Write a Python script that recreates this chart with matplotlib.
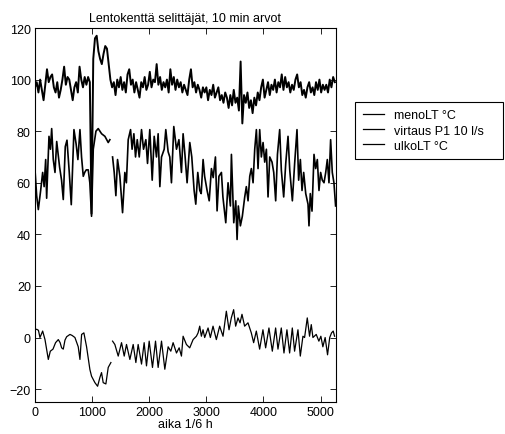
import numpy as np
import matplotlib
matplotlib.use("Agg")
import matplotlib.pyplot as plt

plt.rcParams['font.family'] = ['Liberation Sans', 'DejaVu Sans']
plt.rcParams['font.size'] = 9

title = "Lentokenttä selittäjät, 10 min arvot"
xlabel = "aika 1/6 h"
labels = ["menoLT °C", "virtaus P1 10 l/s", "ulkoLT °C"]
xticks = [0, 1000, 2000, 3000, 4000, 5000]
yticks = [-20, 0, 20, 40, 60, 80, 100, 120]

# menoLT, sampled every 30 time steps
meno_step = 30
meno_y = [
    97, 99, 95, 100, 96, 92, 98, 104, 99, 101,
    102, 97, 95, 99, 93, 96, 100, 105, 98, 101,
    100, 96, 92, 97, 99, 95, 105, 100, 97, 101,
    98, 101, 99, 48, 108, 116, 117, 111, 108, 106,
    110, 113, 112, 106, 100, 97, 99, 94, 100, 97,
    101, 96, 99, 95, 102, 104, 98, 100, 95, 99,
    96, 93, 99, 97, 101, 96, 98, 103, 97, 100,
    99, 106, 98, 101, 96, 99, 97, 100, 95, 104,
    98, 101, 96, 100, 97, 99, 95, 98, 96, 94,
    100, 104, 97, 99, 95, 98, 96, 93, 97, 95,
    97, 92, 96, 94, 98, 93, 95, 97, 92, 94,
    91, 95, 93, 89, 94, 90, 96, 91, 93, 88,
    107, 83, 94, 91, 95, 89, 92, 87, 93, 90,
    95, 92, 97, 100, 93, 96, 99, 94, 98, 96,
    100, 95, 99, 97, 102, 96, 101, 97, 99, 95,
    98, 96, 100, 102, 97, 99, 94, 96, 93, 97,
    99, 95, 97, 94, 99, 96, 100, 95, 98, 96,
    98, 95, 100, 97, 101, 99,
]

virtaus_x = [
    0, 29, 58, 99, 134, 160, 187, 204, 245, 270, 292, 320, 350, 380, 431, 465, 495, 530, 560, 600,
    635, 682, 720, 751, 787, 815, 845, 870, 897, 932, 960, 990, 1020, 1067, 1107, 1166, 1224, 1282, 1311, 1330,
    1358, 1387, 1416, 1445, 1486, 1533, 1573, 1600, 1632, 1673, 1700, 1731, 1760, 1790, 1825, 1865, 1900, 1941, 1970, 2010,
    2052, 2087, 2127, 2156, 2186, 2215, 2262, 2290, 2331, 2360, 2389, 2430, 2477, 2520, 2564, 2593, 2625, 2663, 2710, 2745,
    2786, 2815, 2850, 2885, 2910, 2943, 2970, 3013, 3050, 3089, 3120, 3159, 3188, 3220, 3264, 3290, 3340, 3380, 3421, 3439,
    3480, 3515, 3538, 3560, 3596, 3630, 3672, 3700, 3730, 3760, 3788, 3818, 3847, 3876, 3905, 3934, 3963, 3993, 4022, 4051,
    4080, 4110, 4150, 4180, 4214, 4245, 4284, 4313, 4354, 4390, 4430, 4460, 4506, 4546, 4587, 4616, 4646, 4675, 4704, 4740,
    4780, 4797, 4820, 4850, 4885, 4914, 4943, 4972, 5001, 5030, 5060, 5090, 5118, 5147, 5176, 5205, 5234, 5263,
]
virtaus_y = [
    65, 55, 49.6, 57, 64, 58.5, 69, 54, 78, 73, 81, 69, 64, 76, 66, 61, 53.5, 74, 76.5, 64,
    51.5, 80.6, 75, 69, 80.6, 70, 62.5, 64, 65, 65, 60, 47, 73, 80, 81, 79, 78, 75.6, 76.7, np.nan,
    70, 64, 55, 69, 62.5, 48.4, 64, 60, 76.7, 80.6, 73, 79, 70, 76.7, 70, 80.6, 73, 76.7, 67.5, 80.6,
    61, 78, 70, 79, 58.5, 70, 73, 80.6, 72, 70, 60, 81.8, 73, 76.7, 64, 79, 71, 60, 75.6, 70,
    57, 51.7, 64, 57, 55.8, 69, 62.5, 57, 53, 65.5, 62, 70, 49.1, 62.5, 64, 54.5, 44.5, 60, 51, 71,
    44.5, 53, 38, 51, 43.3, 47, 54.5, 58.5, 53, 62.5, 65.5, 60, 73, 80.6, 65.5, 80.6, 70, 75.6, 68, 73,
    54.5, 70, 68, 64, 53, 71, 80.6, 64.9, 54.5, 67.5, 78, 65, 53, 67.5, 80.6, 61, 69, 57, 64, 55.8,
    51.7, 43.3, 55.8, 49, 71, 65.5, 69, 57, 64, 61, 60, 64, 69, 60, 76.7, 64, 60, 51,
]

ulko_x = [
    0, 30, 60, 87, 134, 175, 233, 268, 315, 360, 408, 440, 466, 495, 525, 554, 612, 650, 699, 757,
    787, 816, 856, 903, 961, 990, 1049, 1096, 1136, 1165, 1194, 1241, 1282, 1329, 1345, 1358, 1398, 1457, 1515, 1562,
    1602, 1661, 1719, 1766, 1806, 1865, 1911, 1952, 1999, 2057, 2110, 2156, 2215, 2273, 2331, 2378, 2418, 2477, 2524, 2564,
    2593, 2651, 2709, 2768, 2826, 2855, 2884, 2913, 2942, 2971, 3030, 3070, 3117, 3175, 3233, 3292, 3350, 3397, 3437, 3478,
    3513, 3554, 3590, 3624, 3670, 3729, 3787, 3828, 3875, 3933, 3991, 4038, 4096, 4155, 4213, 4254, 4312, 4359, 4411, 4458,
    4505, 4545, 4604, 4645, 4691, 4720, 4767, 4807, 4837, 4866, 4924, 4970, 5005, 5040, 5080, 5122, 5160, 5192, 5221, 5245,
]
ulko_y = [
    3, 3.2, 2.8, 0, 2.5, -0.8, -8.5, -5.3, -4.5, -2, -0.8, -2, -4, -4.5, -1, 0.3, 1.2, 0.8, 0, -3.6,
    -8.5, 1.2, 1.8, -3.6, -12.4, -15, -17.5, -18.9, -15.5, -13.6, -17.5, -18, -11.6, -9.7, np.nan, -1.4, -2.7, -7.2, -2, -7.2,
    -2.7, -8.5, -2.7, -9.7, -2.7, -10.3, -2, -11, -1.4, -11.6, -1.4, -11.6, -1.4, -12.3, -3.6, -5.3, -2, -6, -4, -7.2,
    0.5, -2.7, -4, -0.8, 0.5, 1.8, 4.4, 0.5, 3, 0, 3.7, 0, 4.4, -0.8, 4.4, 0.5, 10.2, 3, 7.6, 10.8,
    4.4, 7.6, 5.7, 9, 4.4, 5.7, 1.8, -2, 2.5, -4.5, 3, -4, 3.7, -5.3, 3.7, -4.5, 3.7, -6, 3, -6,
    3.7, -5.3, 3, -7.2, 0.5, 0, 7.6, 0.5, 5, 0, 1.2, -1.4, 0.5, -3.6, 0, -6.7, 0, 1.8, 2.5, 0.5,
]

W, H = 505, 435
fig = plt.figure(figsize=(W / 100, H / 100), dpi=100)
ax = fig.add_axes([35 / W, 1 - 403 / H, (336 - 35) / W, (403 - 29) / H])

meno_x = np.arange(len(meno_y)) * meno_step
ax.plot(meno_x, meno_y, color='black', lw=1.4, label=labels[0])
ax.plot(virtaus_x, virtaus_y, color='black', lw=1.2, label=labels[1])
ax.plot(ulko_x, ulko_y, color='black', lw=0.9, label=labels[2])

ax.set_xlim(0, 5270)
ax.set_ylim(-25, 120)
ax.set_xticks(xticks)
ax.set_yticks(yticks)
ax.tick_params(direction='in', top=True, right=True, length=4, width=0.6, labelsize=9, pad=3)
for s in ax.spines.values():
    s.set_linewidth(0.8)
ax.set_title(title, fontsize=9, pad=5)
ax.set_xlabel(xlabel, fontsize=9, labelpad=0)

leg = ax.legend(loc='upper left', bbox_to_anchor=(355 / W, 1 - 160 / H, 148 / W, 57 / H),
                bbox_transform=fig.transFigure, mode='expand', fontsize=9,
                frameon=True, fancybox=False, edgecolor='black', framealpha=1,
                handlelength=1.7, handletextpad=0.8, labelspacing=0.25, borderpad=0.6,
                borderaxespad=0)
leg.get_frame().set_linewidth(0.8)
for h in leg.get_lines():
    h.set_linewidth(0.9)

fig.savefig('out.png', dpi=100)
